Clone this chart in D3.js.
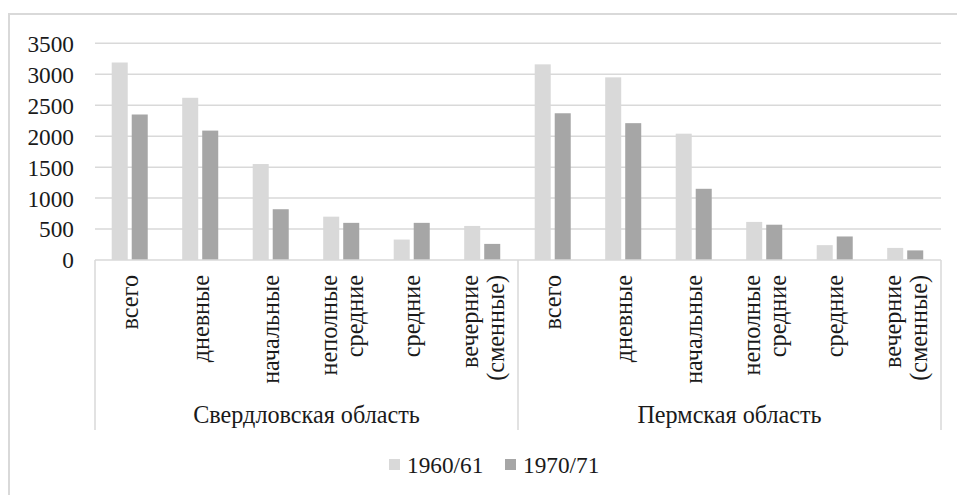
<!DOCTYPE html>
<html>
<head>
<meta charset="utf-8">
<script src="https://cdn.jsdelivr.net/npm/d3@7"></script>
<style>
  html, body { margin: 0; padding: 0; background: #fff; }
  svg { display: block; }
</style>
</head>
<body>
<svg id="chart" width="957" height="495" font-family="Liberation Serif, Tinos, Times New Roman, serif"></svg>
<script>
// ---- Data ----
const regions = ["Свердловская область", "Пермская область"];
const schoolTypes = [["всего"], ["дневные"], ["начальные"], ["неполные", "средние"], ["средние"], ["вечерние", "(сменные)"]];
const seriesNames = ["1960/61", "1970/71"];
const sverdlovsk1960 = [3190, 2620, 1550, 700, 330, 550];
const sverdlovsk1970 = [2350, 2090, 820, 600, 600, 260];
const perm1960 = [3160, 2950, 2040, 615, 240, 195];
const perm1970 = [2370, 2210, 1150, 570, 380, 155];
const yTicks = [0, 500, 1000, 1500, 2000, 2500, 3000, 3500];
const colors = ["#d9d9d9", "#a6a6a6"];

// build rows
const rows = [];
regions.forEach((r, ri) => {
  const a = ri === 0 ? sverdlovsk1960 : perm1960;
  const b = ri === 0 ? sverdlovsk1970 : perm1970;
  schoolTypes.forEach((t, ti) => {
    rows.push({ key: ri + "-" + ti, region: r, ri, label: t, values: [a[ti], b[ti]] });
  });
});

// ---- Layout ----
const FONT = "Liberation Serif, Tinos, Times New Roman, serif";
const FS = 23.3;     // digits
const FS_CYR = 24.2; // cyrillic labels
const TXT = "#1a1a1a";
const svg = d3.select("#chart");
const plotL = 95, plotR = 941, plotT = 43.3, plotB = 260;
const gridColor = "#d9d9d9";

function serif(sel, fs) {
  return sel.attr("font-family", FONT).style("font-family", FONT).attr("font-size", fs || FS).attr("fill", TXT);
}

// chart border
svg.append("rect").attr("x", 9).attr("y", 14).attr("width", 960).attr("height", 500)
  .attr("fill", "none").attr("stroke", gridColor).attr("stroke-width", 2);

const y = d3.scaleLinear().domain([0, 3500]).range([plotB, plotT]);
const x0 = d3.scaleBand().domain(rows.map(d => d.key)).range([plotL, plotR]).padding(0);
const bw = x0.bandwidth();
const x1 = d3.scaleBand().domain(seriesNames).range([bw * 0.237, bw * 0.748]).paddingInner(0.2).paddingOuter(0);

// gridlines
svg.append("g").selectAll("line").data(yTicks.filter(v => v > 0)).join("line")
  .attr("x1", plotL).attr("x2", plotR)
  .attr("y1", d => y(d)).attr("y2", d => y(d))
  .attr("stroke", gridColor).attr("stroke-width", 1.5);

// y axis labels
const yAxis = d3.axisLeft(y).tickValues(yTicks).tickSize(0).tickPadding(21).tickFormat(d3.format("d"));
const ya = svg.append("g").attr("transform", `translate(${plotL},0)`).call(yAxis);
ya.select(".domain").remove();
ya.attr("font-family", FONT).attr("font-size", FS);
serif(ya.selectAll("text")).attr("dy", "0.34em");

// bars
const g = svg.append("g");
rows.forEach(r => {
  g.append("g").attr("transform", `translate(${x0(r.key)},0)`)
    .selectAll("rect").data(r.values.map((v, i) => ({ v, s: seriesNames[i], i }))).join("rect")
    .attr("x", d => x1(d.s)).attr("width", x1.bandwidth())
    .attr("y", d => y(d.v)).attr("height", d => plotB - y(d.v))
    .attr("fill", d => colors[d.i]);
});

// category axis
svg.append("line").attr("x1", plotL).attr("x2", plotR).attr("y1", plotB).attr("y2", plotB)
  .attr("stroke", gridColor).attr("stroke-width", 1.5);
const sepX = [plotL, x0(rows[6].key), plotR];
svg.append("g").selectAll("line").data(sepX).join("line")
  .attr("x1", d => d).attr("x2", d => d).attr("y1", plotB).attr("y2", 430)
  .attr("stroke", gridColor).attr("stroke-width", 1.5);

// category labels (rotated)
const lineH = 26.5;
rows.forEach(r => {
  const cx = x0(r.key) + bw / 2;
  const n = r.label.length;
  r.label.forEach((ln, i) => {
    const bx = cx + 8 + (i - (n - 1) / 2) * lineH;
    serif(svg.append("text"), FS_CYR)
      .attr("transform", `translate(${bx},275) rotate(-90)`)
      .attr("text-anchor", "end")
      .text(ln);
  });
});

// group labels
regions.forEach((r, ri) => {
  const gx = (sepX[ri] + sepX[ri + 1]) / 2;
  serif(svg.append("text"), FS_CYR).attr("x", gx).attr("y", 423).attr("text-anchor", "middle").text(r);
});

// legend
const legX = [389, 505];
seriesNames.forEach((s, i) => {
  svg.append("rect").attr("x", legX[i]).attr("y", 459).attr("width", 11).attr("height", 11).attr("fill", colors[i]);
  serif(svg.append("text")).attr("x", legX[i] + 18).attr("y", 472.7).text(s);
});
</script>
</body>
</html>
